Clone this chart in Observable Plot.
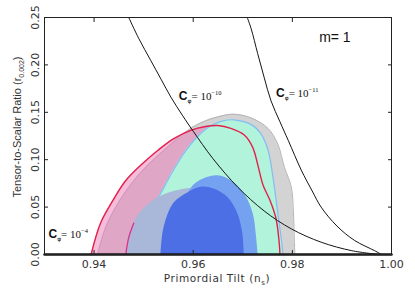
<!DOCTYPE html>
<html><head><meta charset="utf-8">
<script src="https://cdn.jsdelivr.net/npm/d3@7"></script>
<script src="https://cdn.jsdelivr.net/npm/@observablehq/plot@0.6"></script>
<style>body{margin:0;background:#fff} svg{display:block}</style>
</head><body><div id="chart"></div>
<script>
// Tick values
const xTicks = [0.94, 0.96, 0.98, 1.00];
const yTicks = [0, 0.05, 0.10, 0.15, 0.20, 0.25];

// 95% contour, grey dataset
const grayX = [0.9407, 0.9423, 0.9444, 0.9470, 0.9504, 0.9541, 0.9572, 0.9598, 0.9625, 0.9656, 0.9682, 0.9717, 0.9751, 0.9771, 0.9784, 0.9798, 0.9802, 0.9804, 0.9805];
const grayY = [0, 0.028, 0.050, 0.071, 0.092, 0.110, 0.124, 0.134, 0.141, 0.146, 0.148, 0.144, 0.133, 0.116, 0.092, 0.071, 0.046, 0.015, 0];
// 95% contour, red dataset
const redX = [0.9394, 0.9413, 0.9438, 0.9464, 0.9498, 0.9529, 0.9560, 0.9595, 0.9625, 0.9650, 0.9676, 0.9703, 0.9720, 0.9731, 0.9741, 0.9755, 0.9767, 0.9773, 0.9775];
const redY = [0, 0.033, 0.057, 0.078, 0.096, 0.110, 0.122, 0.131, 0.135, 0.136, 0.133, 0.126, 0.113, 0.093, 0.073, 0.057, 0.038, 0.015, 0];
// 95% contour, mint dataset
const mintX = [0.9475, 0.9492, 0.9512, 0.9535, 0.9558, 0.9583, 0.9610, 0.9636, 0.9660, 0.9682, 0.9717, 0.9737, 0.9751, 0.9761, 0.9770, 0.9778, 0.9781];
const mintY = [0, 0.020, 0.043, 0.065, 0.087, 0.108, 0.125, 0.136, 0.141, 0.142, 0.137, 0.127, 0.110, 0.081, 0.046, 0.015, 0];
// 68% contours
const gbX = [0.9464, 0.9470, 0.9480, 0.9500, 0.9530, 0.9565, 0.9605, 0.9650, 0.9680, 0.9700, 0.9712];
const gbY = [0, 0.018, 0.033, 0.048, 0.060, 0.067, 0.070, 0.066, 0.055, 0.035, 0];
const mbX = [0.9545, 0.9560, 0.9580, 0.9601, 0.9622, 0.9650, 0.9676, 0.9703, 0.9721, 0.9727, 0.9731];
const mbY = [0, 0.030, 0.055, 0.073, 0.080, 0.083, 0.078, 0.064, 0.043, 0.022, 0];
const dbX = [0.9535, 0.9541, 0.9561, 0.9589, 0.9616, 0.9642, 0.9670, 0.9690, 0.9700, 0.9703];
const dbY = [0, 0.028, 0.054, 0.065, 0.071, 0.069, 0.060, 0.043, 0.022, 0];
// Model curves C_phi = 1e-10 and 1e-11
const c10X = [0.9470, 0.9490, 0.9514, 0.9535, 0.9555, 0.9578, 0.9600, 0.9640, 0.9690, 0.9743, 0.9798, 0.9858, 0.9920, 0.9975];
const c10Y = [0.250, 0.228, 0.205, 0.185, 0.166, 0.147, 0.130, 0.101, 0.071, 0.046, 0.027, 0.013, 0.004, 0];
const c11X = [0.9709, 0.9717, 0.9730, 0.9743, 0.9757, 0.9775, 0.9792, 0.9818, 0.9840, 0.9858, 0.9890, 0.9925, 0.9966, 0.9980];
const c11Y = [0.250, 0.238, 0.212, 0.187, 0.162, 0.140, 0.120, 0.089, 0.067, 0.050, 0.030, 0.015, 0.004, 0];
// Model curve C_phi = 1e-4 (lies on r ~ 0)
const c4X = [0.93, 1.00];
const c4Y = [0, 0];
// Labels
const cExps = ["−10", "−11", "−4"];
const panelLabel = "m= 1";

const pts = (xs, ys) => xs.map((x, i) => ({x, y: ys[i]}));
const gray = pts(grayX, grayY), red = pts(redX, redY), mint = pts(mintX, mintY);
const gb = pts(gbX, gbY), mb = pts(mbX, mbY), db = pts(dbX, dbY);
const c10 = pts(c10X, c10Y), c11 = pts(c11X, c11Y), c4 = pts(c4X, c4Y);
const cLabels = [
  {x: 0.9571, y: 0.1667, e: cExps[0]},
  {x: 0.9767, y: 0.170, e: cExps[1]},
  {x: 0.9308, y: 0.021, e: cExps[2]}
];
const curve = "catmull-rom";
const fmt = d3.format(".2f");

const chart = Plot.plot({
  width: 415, height: 296,
  marginLeft: 44, marginRight: 24, marginTop: 17, marginBottom: 42,
  x: {domain: [0.93, 1.00]},
  y: {domain: [0, 0.25]},
  style: {fontFamily: "DejaVu Sans", fontSize: "11px", color: "#333", background: "#fff"},
  marks: [
    Plot.areaY(gray, {x: "x", y: "y", fill: "#d3d3d3", curve}),
    Plot.line(gray, {x: "x", y: "y", stroke: "#b4b4b4", strokeWidth: 1, curve}),
    Plot.areaY(red, {x: "x", y: "y", fill: "#eb79b9", fillOpacity: 0.5, curve}),
    Plot.areaY(mint, {x: "x", y: "y", fill: "#b2f3dc", curve}),
    Plot.line(mint, {x: "x", y: "y", stroke: "#85bdf2", strokeWidth: 1.2, curve}),
    Plot.areaY(gb, {x: "x", y: "y", fill: "#a9b8d9", curve}),
    Plot.line(gb.slice(0, 3), {x: "x", y: "y", stroke: "#e0308a", strokeWidth: 1.3, curve}),
    Plot.areaY(mb, {x: "x", y: "y", fill: "#74a2f1", curve}),
    Plot.areaY(db, {x: "x", y: "y", fill: "#4c6fe6", curve}),
    Plot.line(red, {x: "x", y: "y", stroke: "#e4204a", strokeWidth: 1.4, curve}),
    Plot.line(c10, {x: "x", y: "y", stroke: "#151515", strokeWidth: 1, curve}),
    Plot.line(c11, {x: "x", y: "y", stroke: "#151515", strokeWidth: 1, curve}),
    Plot.line(c4, {x: "x", y: "y", stroke: "#151515", strokeWidth: 2.5}),
    Plot.frame({stroke: "#222"}),
    Plot.axisX(xTicks, {anchor: "bottom", tickSize: -4, fill: "none", stroke: "#222", label: null}),
    Plot.axisX(xTicks, {anchor: "top", tickSize: -4, fill: "none", stroke: "#222", label: null}),
    Plot.axisY(yTicks, {anchor: "left", tickSize: -4, fill: "none", stroke: "#222", label: null}),
    Plot.axisY(yTicks, {anchor: "right", tickSize: -4, fill: "none", stroke: "#222", label: null}),
    Plot.axisX(xTicks, {anchor: "bottom", tickSize: 0, tickPadding: 6, tickFormat: fmt, label: null, fill: "#333"}),
    Plot.axisY(yTicks, {anchor: "left", tickSize: 0, tickPadding: 6, tickRotate: -90, tickFormat: fmt, label: null, fill: "#333"}),
    Plot.text(cLabels, {x: "x", y: "y", text: "e", textAnchor: "start", className: "clab", fill: "#111"}),
    Plot.text([panelLabel], {x: () => 0.9854, y: () => 0.229, text: d => d, textAnchor: "start", fontSize: 14, fontFamily: "Liberation Sans", fill: "#111"})
  ]
});

const svg = d3.select(chart);
svg.selectAll("g.clab text").each(function() {
  const e = this.textContent;
  const t = d3.select(this);
  t.text(null);
  t.append("tspan").attr("font-family", "Liberation Sans").attr("font-weight", "bold").attr("font-size", 12).text("C");
  t.append("tspan").attr("font-family", "DejaVu Sans").attr("font-size", 6).attr("dy", 3).text("φ");
  t.append("tspan").attr("font-family", "Liberation Serif").attr("font-size", 11).attr("dy", -3).text("= 10");
  t.append("tspan").attr("font-family", "Liberation Serif").attr("font-size", 6.5).attr("dy", -5).text(e);
});

// Axis titles with subscripts
const xt = svg.append("text").attr("x", 217).attr("y", 282).attr("text-anchor", "middle")
  .attr("font-family", "DejaVu Sans").attr("font-size", 10.5).attr("letter-spacing", 0.6).attr("fill", "#333");
xt.append("tspan").text("Primordial Tilt (n");
xt.append("tspan").attr("font-size", 7).attr("dy", 3).text("s");
xt.append("tspan").attr("dy", -3).text(")");

const yt = svg.append("text").attr("transform", "translate(21,127) rotate(-90)").attr("text-anchor", "middle")
  .attr("font-family", "Liberation Sans").attr("font-size", 11).attr("fill", "#333");
yt.append("tspan").text("Tensor-to-Scalar Ratio (r");
yt.append("tspan").attr("font-size", 7).attr("dy", 3).text("0.002");
yt.append("tspan").attr("dy", -3).text(")");

document.getElementById("chart").append(chart);
</script>
</body></html>
